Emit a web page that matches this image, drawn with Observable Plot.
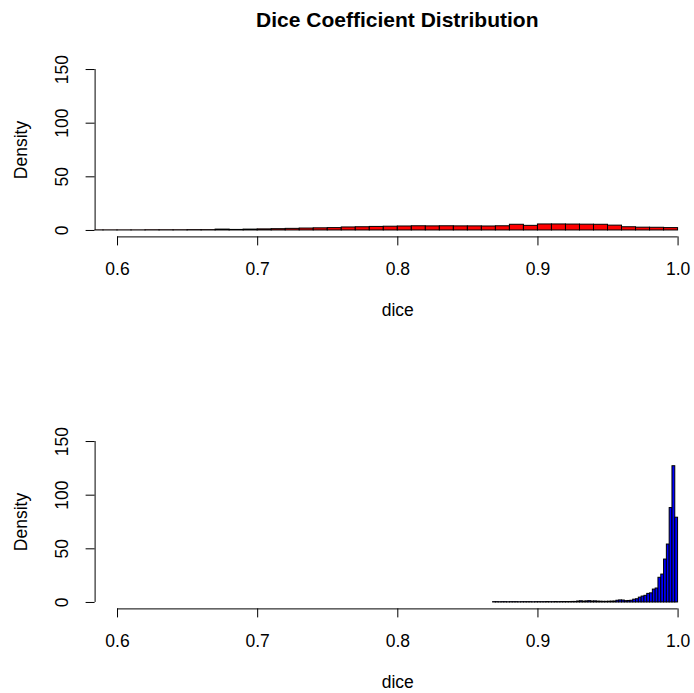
<!DOCTYPE html>
<html>
<head>
<meta charset="utf-8">
<script src="https://cdn.jsdelivr.net/npm/d3@7"></script>
<script src="https://cdn.jsdelivr.net/npm/@observablehq/plot@0.6"></script>
<style>
  body { margin: 0; background: #fff; }
  #wrap { position: relative; width: 694px; height: 693px; overflow: hidden; font-family: "Liberation Sans", Arial, sans-serif; }
  #title { position: absolute; top: 9px; left: 397.3px; transform: translateX(-50%); white-space: nowrap; font-weight: bold; font-size: 21px; line-height: 22px; color: #000; }
  .panel { position: absolute; left: 0; }
</style>
</head>
<body>
<div id="wrap">
  <div id="title">Dice Coefficient Distribution</div>
  <div id="p1" class="panel" style="top:0px"></div>
  <div id="p2" class="panel" style="top:372px"></div>
</div>
<script>
// ---- data ----
const chartTitle = "Dice Coefficient Distribution";
const xLabel = "dice";
const yLabel = "Density";
const xTicks = [0.6, 0.7, 0.8, 0.9, 1.0];
const yTicks = [0, 50, 100, 150];

// top histogram: bin lower edges (width 0.01) and densities
const topBinWidth = 0.01;
const topBinStarts = [0.58,0.59,0.60,0.61,0.62,0.63,0.64,0.65,0.66,0.67,0.68,0.69,
  0.70,0.71,0.72,0.73,0.74,0.75,0.76,0.77,0.78,0.79,
  0.80,0.81,0.82,0.83,0.84,0.85,0.86,0.87,0.88,0.89,
  0.90,0.91,0.92,0.93,0.94,0.95,0.96,0.97,0.98,0.99];
const topDensity = [0.1,0.1,0.1,0.1,0.2,0.2,0.2,0.3,0.3,0.8,0.5,0.8,
  1.0,1.2,1.5,1.8,2.0,2.2,2.8,3.0,3.3,3.5,
  3.7,3.9,3.8,3.9,3.8,3.8,3.7,3.9,5.3,4.3,
  5.6,5.6,5.5,5.4,5.3,4.5,3.0,2.6,2.5,2.2];

// bottom histogram: bin lower edges (width 0.002) and densities
const bottomBinWidth = 0.002;
const bottomBinStarts = [0.868,0.870,0.872,0.874,0.876,0.878,0.880,0.882,0.884,0.886,0.888,
  0.890,0.892,0.894,0.896,0.898,0.900,0.902,0.904,0.906,0.908,
  0.910,0.912,0.914,0.916,0.918,0.920,0.922,0.924,0.926,0.928,
  0.930,0.932,0.934,0.936,0.938,0.940,0.942,0.944,0.946,0.948,
  0.950,0.952,0.954,0.956,0.958,0.960,0.962,0.964,0.966,0.968,
  0.970,0.972,0.974,0.976,0.978,0.980,0.982,0.984,0.986,0.988,
  0.990,0.992,0.994,0.996,0.998];
const bottomDensity = [0.3,0.3,0.2,0.3,0.3,0.2,0.3,0.3,0.3,0.2,0.3,
  0.3,0.3,0.3,0.2,0.3,0.3,0.3,0.3,0.4,0.3,
  0.3,0.4,0.3,0.4,0.4,0.4,0.4,0.5,0.5,0.9,
  1.1,0.8,1.0,1.2,0.9,1.0,0.8,0.7,0.6,0.6,
  0.7,0.8,0.9,1.6,1.9,1.8,1.2,1.4,1.6,2.6,
  3.0,4.5,5.5,6.2,8.0,8.5,12,13,23,26,
  40,54,88,127,79];

const topFill = "#ff0000";
const bottomFill = "#0000ff";

// ---- layout (R-like plot region) ----
const W = 694;
const xDomain = [0.584, 1.016];
const xRange = [94.6, 700];
const yDomain = [-6, 156];
const plotTop = 62.6, plotBottom = 236.4;
const FONT = "'Liberation Sans', Arial, sans-serif";
const FS = 17.5;

function panel(starts, dens, bw, fill, height) {
  const data = starts.map((s, i) => ({x1: s, x2: +(s + bw).toFixed(4), y: dens[i]}));
  return Plot.plot({
    width: W,
    height,
    marginLeft: xRange[0],
    marginRight: 0,
    marginTop: plotTop,
    marginBottom: height - plotBottom,
    style: {fontFamily: FONT, fontSize: FS + "px", background: "transparent", overflow: "visible"},
    x: {domain: xDomain, range: xRange},
    y: {domain: yDomain},
    marks: [
      Plot.rectY(data, {x1: "x1", x2: "x2", y: "y", fill, stroke: "#000", strokeWidth: 1, clip: true}),
      // x axis
      Plot.ruleY([yDomain[0]], {x1: xTicks[0], x2: xTicks[xTicks.length - 1], stroke: "#000"}),
      Plot.axisX({ticks: xTicks, tickSize: 9, tickPadding: 16.3, tickFormat: d3.format(".1f"), label: null, fontSize: FS, stroke: "#000"}),
      Plot.text([xLabel], {x: () => (xDomain[0] + xDomain[1]) / 2, frameAnchor: "bottom", dy: 73.6, fontSize: FS, lineAnchor: "middle"}),
      // y axis
      Plot.ruleX([xDomain[0]], {y1: yTicks[0], y2: yTicks[yTicks.length - 1], stroke: "#000"}),
      Plot.axisY({ticks: yTicks, tickSize: 9, tickFormat: () => "", label: null, stroke: "#000"}),
      Plot.text(yTicks, {y: d => d, text: d => String(d), frameAnchor: "left", dx: -32.6, rotate: -90, textAnchor: "middle", lineAnchor: "middle", fontSize: FS}),
      Plot.text([yLabel], {frameAnchor: "left", dx: -74, rotate: -90, textAnchor: "middle", lineAnchor: "middle", fontSize: FS})
    ]
  });
}

document.getElementById("title").textContent = chartTitle;
document.getElementById("p1").appendChild(panel(topBinStarts, topDensity, topBinWidth, topFill, 372));
document.getElementById("p2").appendChild(panel(bottomBinStarts, bottomDensity, bottomBinWidth, bottomFill, 321));
</script>
</body>
</html>
